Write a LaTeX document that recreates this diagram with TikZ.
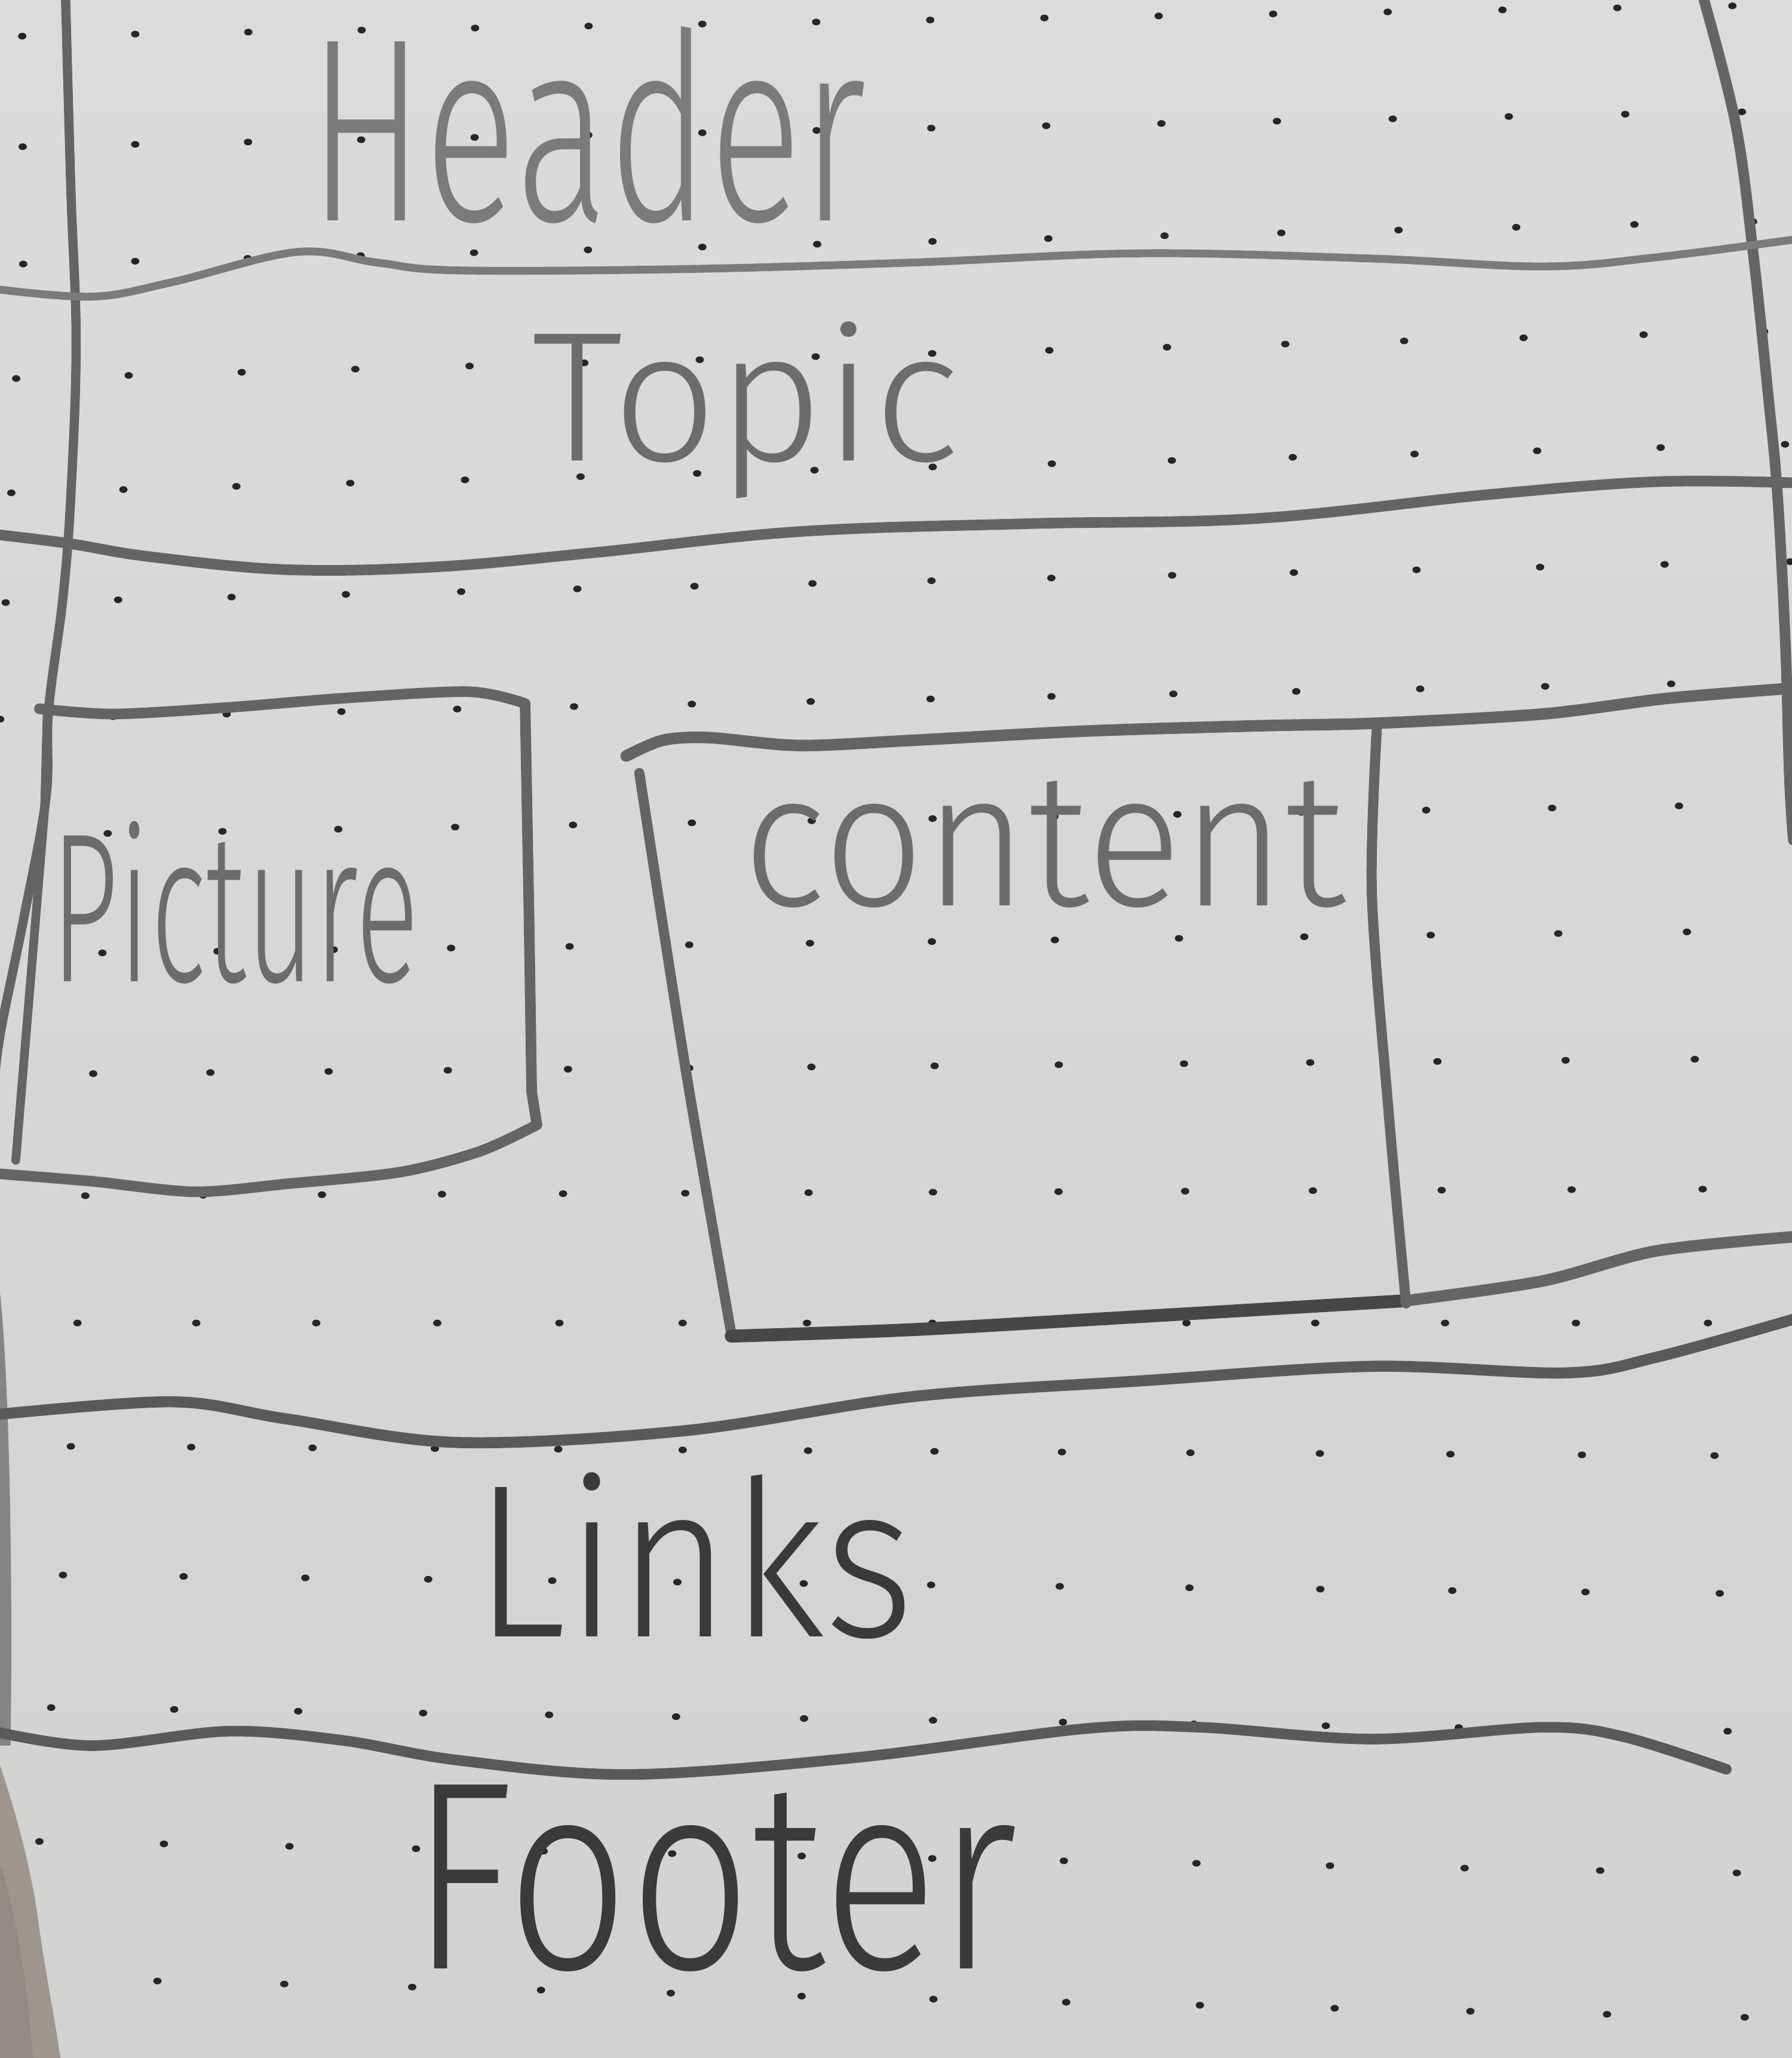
\documentclass[tikz,border=0pt]{standalone}
\usepackage{fontspec}
\usepackage{graphicx}
\newfontfamily\handfont{Fira Sans Light}
\definecolor{papertop}{HTML}{DBDBDA}
\definecolor{paperbot}{HTML}{D2D2D1}
\definecolor{dotc}{HTML}{262626}
\definecolor{leadc}{HTML}{646464}
\definecolor{leaddark}{HTML}{474747}
\definecolor{inkc}{HTML}{6C6C6C}
\definecolor{inkdark}{HTML}{3A3A3A}
\definecolor{carpet}{HTML}{9E958D}
\definecolor{shadowc}{HTML}{777777}
\begin{document}
\begin{tikzpicture}[x=0.02cm,y=-0.02cm,
  pencil/.style={draw=leadc, line width=#1, line cap=round, line join=round},
  pencil/.default=3pt,
  hand/.style={inner sep=0pt, outer sep=0pt, anchor=base west, text=inkc},
  dotstyle/.style={fill=dotc}]
\useasboundingbox (0,0) rectangle (1365,1568);
\begin{scope}
\clip (0,0) rectangle (1365,1568);
% paper
\shade[top color=papertop, bottom color=paperbot] (0,0) rectangle (1365,1568);

% dot grid: each row given by its columns 1, 6 and 14 (x) and the ends' heights
\foreach \lx/\ly/\mx/\rx/\ry in {
  103/26/535/1232/6, 103/110/535/1238/87, 103/199/535/1245/171,
  98/286/533/1252/255, 94/373/531/1265/341, 90/457/529/1268/430,
  86/546/527/1273/521, 82/635/527/1279/614, 78/726/525/1285/710,
  71/818/525/1291/807, 65/911/522/1297/906, 59/1008/520/1301/1008,
  54/1102/520/1306/1109, 48/1200/516/1310/1214, 39/1301/515/1316/1319,
  30/1403/512/1323/1427, 24/1507/511/1329/1537}{
  \foreach \j in {0,...,15}{
    \pgfmathsetmacro\px{\lx/65*(\j-6)*(\j-14) - \mx/40*(\j-1)*(\j-14) + \rx/104*(\j-1)*(\j-6)}
    \pgfmathsetmacro\py{\ly+(\j-1)/13*(\ry-\ly)}
    \fill[dotstyle] (\px,\py) ellipse [x radius=1.8pt, y radius=1.45pt];
  }
}

% shadow along the left edge and the carpet below the sheet
\fill[shadowc, opacity=0.85] (0,985) .. controls (7,1050) and (10,1200) .. (8,1330) -- (0,1330) -- cycle;
\fill[carpet] (0,1345) .. controls (15,1390) and (25,1430) .. (30,1470)
  .. controls (36,1510) and (42,1540) .. (46,1568) -- (0,1568) -- cycle;
\fill[carpet!80!black, opacity=0.35] (0,1420) .. controls (10,1450) and (20,1500) .. (25,1568) -- (0,1568) -- cycle;

% outer frame
\draw[pencil=4pt] plot[smooth, tension=0.6] coordinates {(50,0) (54,145) (58,261) (54,377) (48,455) (37,541) (35,608) (18,700) (1,783) (-4,820)};
\draw[pencil=4.6pt] plot[smooth, tension=0.6] coordinates {(1298,0) (1322,94) (1335,189) (1347,302) (1354,377) (1360,490) (1363,591) (1366,640)};

% header / topic separators
\draw[pencil=3.4pt, draw=leadc!85!white] plot[smooth, tension=0.6] coordinates {(-5,220) (70,226) (131,215) (226,192) (287,200) (348,206) (522,205) (696,200) (870,193) (1045,197) (1175,203) (1262,196) (1370,182)};
\draw[pencil=4.6pt] plot[smooth, tension=0.6] coordinates {(-5,407) (52,414) (113,424) (218,434) (331,432) (453,421) (609,405) (783,399) (958,395) (1132,377) (1262,367) (1370,368)};

% picture box
\draw[pencil=4.6pt] plot[smooth, tension=0.5] coordinates {(30,540) (87,544) (174,539) (261,532) (357,527) (400,536)}
  -- (403,700) -- (405,832) -- (409,857)
  plot[smooth, tension=0.5] coordinates {(409,857) (366,877) (305,893) (218,902) (148,908) (70,900) (-5,894)};
\draw[pencil=3.8pt] (36,541) -- (34,617) -- (12,884);

% content box and the column beside it
\draw[pencil=5pt] plot[smooth, tension=0.5] coordinates {(477,576) (505,564) (540,562) (609,568) (696,564) (827,557) (958,553) (1049,551) (1175,544) (1271,532) (1370,524)};
\draw[pencil=4.4pt] plot[smooth, tension=0.5] coordinates {(487,589) (522,813) (557,1016)};
\draw[pencil=5.6pt, draw=leaddark] plot[smooth, tension=0.5] coordinates {(557,1018) (696,1013) (870,1003) (1071,991)};
\draw[pencil=4.4pt] plot[smooth, tension=0.5] coordinates {(1049,551) (1045,681) (1058,850) (1071,993)};
\draw[pencil=5pt] plot[smooth, tension=0.5] coordinates {(1071,991) (1175,976) (1262,953) (1370,942)};

% links / footer separators
\draw[pencil=4.8pt, draw=leaddark!90!white] plot[smooth, tension=0.55] coordinates {(-5,1078) (131,1068) (218,1081) (348,1099) (522,1090) (696,1064) (870,1052) (1045,1041) (1193,1046) (1262,1034) (1370,1004)};
\draw[pencil=4.6pt, draw=leaddark!90!white] plot[smooth, tension=0.55] coordinates {(-5,1319) (70,1330) (174,1319) (261,1326) (348,1341) (479,1352) (653,1339) (827,1317) (914,1316) (1045,1325) (1175,1316) (1236,1323) (1315,1348)};
\end{scope}

% labels
\node[hand, text=inkc!90!white] (header) at (235,168) {\resizebox{8.5cm}{2.96cm}{\handfont Header}};
\node[hand] (topic) at (405,351) {\resizebox{6.52cm}{2.12cm}{\handfont Topic}};
\node[hand] (picture) at (39,748) {\resizebox{5.6cm}{2.44cm}{\handfont Picture}};
\node[hand] (content) at (566,690) {\resizebox{9.18cm}{1.9cm}{\handfont content}};
\node[hand, text=inkdark] (links) at (361,1247) {\resizebox{6.7cm}{2.5cm}{\handfont Links}};
\node[hand, text=inkdark] (footer) at (313,1500) {\resizebox{9.24cm}{2.8cm}{\handfont Footer}};
\end{tikzpicture}
\end{document}
